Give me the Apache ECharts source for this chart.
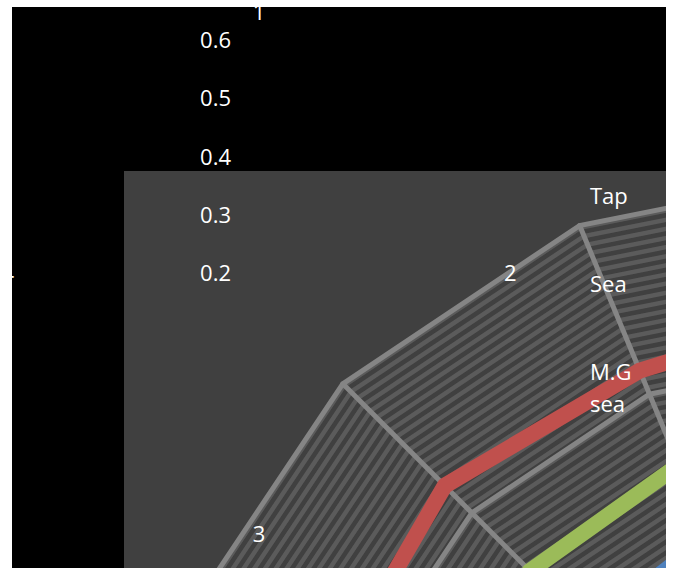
<!DOCTYPE html>
<html><head><meta charset="utf-8">
<script src="https://cdn.jsdelivr.net/npm/echarts@6/dist/echarts.min.js"></script>
<style>html,body{margin:0;padding:0;background:#fff}#c{width:674px;height:568px}</style>
</head><body><div id="c"></div>
<script>
// ---- background radar (black panel): categories and radial tick labels ----
const backCategories = ['1', '2', '3', '4'];
const backTicks = [0.2, 0.3, 0.4, 0.5, 0.6];

// ---- main radar (grey panel) ----
const mainCategories = ['C1','C2','C3','C4','C5','C6','C7','C8','C9','C10','C11','C12','C13','C14','C15','C16'];
const mainMax = 4;
const seriesNames = ['Tap', 'Sea', 'M.G sea'];
const tapValues = [2.20, 2.15, 2.10, 2.05, 2.10, 2.20, 2.15, 2.10, 2.05, 2.10, 2.20, 2.15, 2.10, 2.05, 2.10, 2.20];
const seaValues = [3.27, 3.14, 3.21, 3.13, 3.20, 3.25, 3.15, 3.20, 3.10, 3.20, 3.25, 3.15, 3.20, 3.10, 3.20, 3.25];
const mgSeaValues = [2.60, 2.58, 2.55, 2.60, 2.55, 2.60, 2.65, 2.55, 2.60, 2.55, 2.60, 2.65, 2.55, 2.60, 2.55, 2.60];
const seriesColors = ['#4F81BD', '#C0504D', '#9BBB59'];

const FONT = 'Open Sans';
const chart = echarts.init(document.getElementById('c'), null, {renderer: 'svg'});

// display order for background radar: ECharts goes counter-clockwise, reference goes clockwise
const backOrder = [0, 3, 2, 1];
const backIndicators = backOrder.map((k, i) => {
  const ind = {name: backCategories[k], min: backTicks[0], max: backTicks[backTicks.length - 1]};
  if (i !== 0) ind.axisLabel = {show: false};
  return ind;
});
const mainIndicators = mainCategories.map(n => ({name: n, min: 0, max: mainMax}));

const center = [859, 900], radius = 730;
const stripeColors = ['#404040', '#5b5b5b'];

chart.setOption({
  backgroundColor: '#ffffff',
  animation: false,
  graphic: [
    {type: 'rect', z: -20, shape: {x: 12, y: 7, width: 654, height: 561}, style: {fill: '#000000'}},
    {type: 'rect', z: -10, shape: {x: 124, y: 171, width: 542, height: 397}, style: {fill: '#404040'}},
    {type: 'rect', z: 100, shape: {x: 0, y: 0, width: 674, height: 7}, style: {fill: '#ffffff'}},
    {type: 'rect', z: 100, shape: {x: 0, y: 0, width: 12, height: 568}, style: {fill: '#ffffff'}},
    {type: 'rect', z: 100, shape: {x: 666, y: 0, width: 8, height: 568}, style: {fill: '#ffffff'}}
  ],
  legend: {
    orient: 'vertical', left: 585, top: 179, padding: 0, itemGap: 56,
    itemWidth: 0, itemHeight: 0, icon: 'rect', selectedMode: false,
    data: seriesNames,
    formatter: n => n.replace(' ', '\n'),
    textStyle: {color: '#ffffff', fontSize: 22, fontFamily: FONT, lineHeight: 32, align: 'left'}
  },
  radar: [
    { // stripes
      z: 0, center: center, radius: radius, startAngle: 90, splitNumber: 160,
      indicator: mainIndicators,
      axisName: {show: false},
      axisLine: {show: false}, axisTick: {show: false}, axisLabel: {show: false},
      splitLine: {show: false},
      splitArea: {show: true, areaStyle: {color: stripeColors, opacity: 1}}
    },
    { // major grid
      z: 1, center: center, radius: radius, startAngle: 90, splitNumber: 4,
      indicator: mainIndicators,
      axisName: {show: false},
      axisLine: {show: true, lineStyle: {color: '#858585', width: 5}},
      axisTick: {show: false}, axisLabel: {show: false},
      splitLine: {show: true, lineStyle: {color: '#858585', width: 5}},
      splitArea: {show: false}
    },
    { // background radar labels
      z: 5, center: [259, 272], radius: 233, startAngle: 90, splitNumber: 4,
      indicator: backIndicators,
      nameGap: 12,
      axisName: {show: true, color: '#ffffff', fontSize: 22, fontFamily: FONT, padding: [5, 0, 5, 0]},
      axisLine: {show: false}, axisTick: {show: false},
      axisLabel: {show: true, color: '#ffffff', fontSize: 22, fontFamily: FONT, margin: 28,
                  formatter: v => Number(v).toFixed(1)},
      splitLine: {show: false}, splitArea: {show: false}
    }
  ],
  series: [
    {name: seriesNames[0], type: 'radar', radarIndex: 1, z: 2, symbol: 'none',
     lineStyle: {color: seriesColors[0], width: 16, join: 'round'}, itemStyle: {color: seriesColors[0]},
     data: [{name: seriesNames[0], value: tapValues}]},
    {name: seriesNames[1], type: 'radar', radarIndex: 1, z: 2, symbol: 'none',
     lineStyle: {color: seriesColors[1], width: 16, join: 'round'}, itemStyle: {color: seriesColors[1]},
     data: [{name: seriesNames[1], value: seaValues}]},
    {name: seriesNames[2], type: 'radar', radarIndex: 1, z: 2, symbol: 'none',
     lineStyle: {color: seriesColors[2], width: 16, join: 'round'}, itemStyle: {color: seriesColors[2]},
     data: [{name: seriesNames[2], value: mgSeaValues}]}
  ]
});
</script></body></html>
